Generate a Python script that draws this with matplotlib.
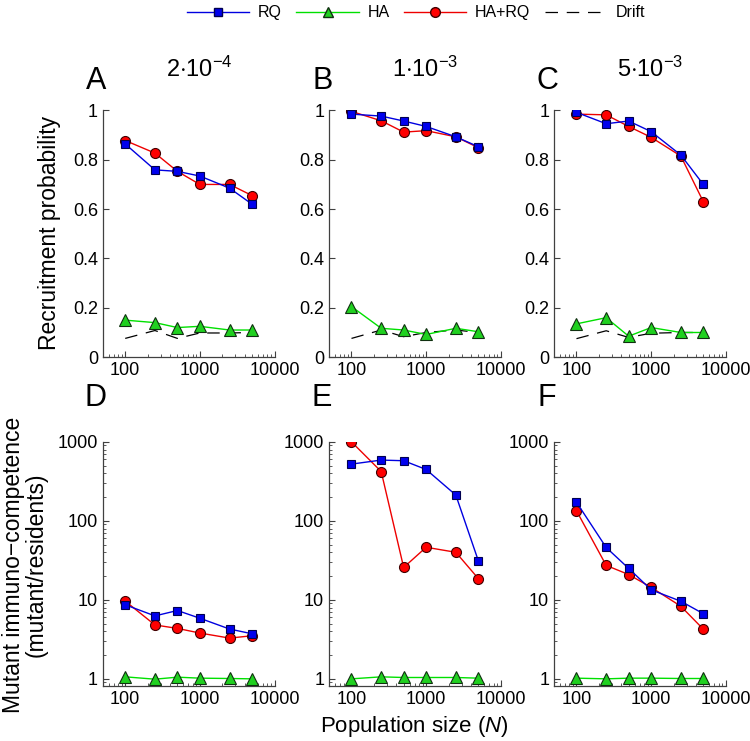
import numpy as np
import matplotlib
matplotlib.use("Agg")
import matplotlib.pyplot as plt
from matplotlib.lines import Line2D
from matplotlib.ticker import LogLocator, NullFormatter, FixedLocator

plt.rcParams['font.family'] = ['Liberation Sans', 'DejaVu Sans']
plt.rcParams['mathtext.fontset'] = 'custom'
plt.rcParams['mathtext.rm'] = 'Liberation Sans'
plt.rcParams['mathtext.it'] = 'Liberation Sans:italic'

# population sizes
N = [100, 250, 500, 1000, 2500, 5000]
rates = [r'$2{\cdot}10^{-4}$', r'$1{\cdot}10^{-3}$', r'$5{\cdot}10^{-3}$']
letters_top = ['A', 'B', 'C']
letters_bot = ['D', 'E', 'F']

# recruitment probability (top row)
rq_top = [
    [0.864, 0.759, 0.753, 0.734, 0.685, 0.62],
    [0.985, 0.977, 0.957, 0.935, 0.893, 0.853],
    [0.992, 0.946, 0.957, 0.914, 0.819, 0.70],
]
harq_top = [
    [0.878, 0.827, 0.753, 0.70, 0.70, 0.655],
    [0.996, 0.958, 0.912, 0.918, 0.893, 0.849],
    [0.985, 0.982, 0.935, 0.891, 0.815, 0.63],
]
ha_top = [
    [0.15, 0.14, 0.12, 0.125, 0.11, 0.11],
    [0.205, 0.117, 0.11, 0.092, 0.117, 0.103],
    [0.135, 0.16, 0.085, 0.12, 0.10, 0.10],
]
drift_top = [
    [0.076, 0.108, 0.076, 0.098, 0.098, 0.10],
    [0.076, 0.11, 0.083, 0.10, 0.11, 0.10],
    [0.075, 0.107, 0.08, 0.097, 0.10, 0.10],
]

# mutant immuno-competence (bottom row)
rq_bot = [
    [8.66, 6.26, 7.33, 5.85, 4.27, 3.72],
    [523, 588, 577, 447, 212, 31.3],
    [172, 46, 25, 13.4, 9.6, 6.68],
]
harq_bot = [
    [9.64, 4.81, 4.35, 3.80, 3.28, 3.51],
    [1000, 421, 25.7, 46.3, 40, 18.6],
    [134, 27.3, 20.9, 14.4, 8.3, 4.25],
]
ha_bot = [
    [1.06, 0.99, 1.05, 1.02, 1.01, 1.0],
    [1.0, 1.06, 1.04, 1.04, 1.04, 1.02],
    [1.02, 1.0, 1.02, 1.02, 1.01, 1.01],
]

BLUE = '#0000e0'
GREEN = '#00e000'
RED = '#ee0000'
SPINE = '#404040'

lefts = [0.137, 0.4387, 0.7387]
width = 0.229
top_b, top_h = 0.518, 0.333
bot_b, bot_h = 0.0747, 0.329

fig = plt.figure(figsize=(7.5, 7.41), dpi=100)


def style_axes(ax):
    for s in ['top', 'right']:
        ax.spines[s].set_visible(False)
    for s in ['left', 'bottom']:
        ax.spines[s].set_color(SPINE)
        ax.spines[s].set_linewidth(0.9)
    ax.set_xscale('log')
    ax.set_xlim(50, 10000)
    ax.xaxis.set_major_locator(FixedLocator([100, 1000, 10000]))
    ax.xaxis.set_minor_locator(LogLocator(base=10, subs=np.arange(2, 10)))
    ax.xaxis.set_minor_formatter(NullFormatter())
    ax.set_xticklabels(['100', '1000', '10000'])
    ax.patch.set_alpha(0)


def ticks(ax):
    ax.tick_params(which='both', direction='in', colors=SPINE, labelcolor='black',
                   labelsize=13)
    ax.tick_params(which='major', length=4)
    ax.tick_params(which='minor', length=2)


def draw(ax, rq, harq, ha, drift=None):
    if drift is not None:
        ax.plot(N, drift, color='black', lw=0.9, dashes=(10, 7), zorder=2)
    ax.plot(N, ha, color=GREEN, lw=1.0, marker='^', ms=8, mfc='#20d020',
            mec='#103010', mew=0.8, zorder=3)
    ax.plot(N, harq, color=RED, lw=1.0, marker='o', ms=7.2, mfc='#ff0000',
            mec='#400000', mew=0.8, zorder=4)
    ax.plot(N, rq, color=BLUE, lw=1.0, marker='s', ms=6, mfc='#0000ee',
            mec='#000050', mew=0.8, zorder=5)


for i in range(3):
    ax = fig.add_axes([lefts[i], top_b, width, top_h])
    style_axes(ax)
    draw(ax, rq_top[i], harq_top[i], ha_top[i], drift_top[i])
    ax.set_ylim(0, 1)
    ax.set_yticks([0, 0.2, 0.4, 0.6, 0.8, 1])
    ax.set_yticklabels(['0', '0.2', '0.4', '0.6', '0.8', '1'])
    ticks(ax)
    ax.text(-0.04, 1.06, letters_top[i], transform=ax.transAxes, fontsize=22,
            ha='center', va='bottom')
    ax.text(0.56, 1.115, rates[i], transform=ax.transAxes, fontsize=17,
            ha='center', va='bottom')

    ax = fig.add_axes([lefts[i], bot_b, width, bot_h])
    style_axes(ax)
    draw(ax, rq_bot[i], harq_bot[i], ha_bot[i])
    ax.set_yscale('log')
    ax.set_ylim(0.82, 1000)
    ax.yaxis.set_major_locator(FixedLocator([1, 10, 100, 1000]))
    ax.yaxis.set_minor_locator(LogLocator(base=10, subs=np.arange(2, 10)))
    ax.yaxis.set_minor_formatter(NullFormatter())
    ax.set_yticklabels(['1', '10', '100', '1000'])
    ticks(ax)
    ax.text(-0.04, 1.12, letters_bot[i], transform=ax.transAxes, fontsize=22,
            ha='center', va='bottom')

fig.text(0.066, 0.6856, 'Recruitment probability', rotation=90, fontsize=16.5,
         ha='center', va='center')
fig.text(0.033, 0.2375, 'Mutant immuno\u2212competence\n(mutant/residents)', rotation=90,
         fontsize=16.5, ha='center', va='center', linespacing=1.0)
fig.text(0.553, 0.003, r'Population size ($\mathit{N}$)', fontsize=16,
         ha='center', va='bottom')

handles = [
    Line2D([], [], color=BLUE, lw=1.0, marker='s', ms=5.5, mfc='#0000ee', mec='#000050'),
    Line2D([], [], color=GREEN, lw=1.0, marker='^', ms=7.5, mfc='#20d020', mec='#103010'),
    Line2D([], [], color=RED, lw=1.0, marker='o', ms=7, mfc='#ff0000', mec='#400000'),
    Line2D([], [], color='black', lw=0.9, dashes=(10, 7)),
]
fig.legend(handles, ['RQ', 'HA', 'HA+RQ', 'Drift'], loc='upper center',
           bbox_to_anchor=(0.555, 1.012), ncol=4, frameon=False, fontsize=11.5,
           handlelength=3.9, handletextpad=0.55, columnspacing=0.9)

fig.savefig('out.png', dpi=100)
